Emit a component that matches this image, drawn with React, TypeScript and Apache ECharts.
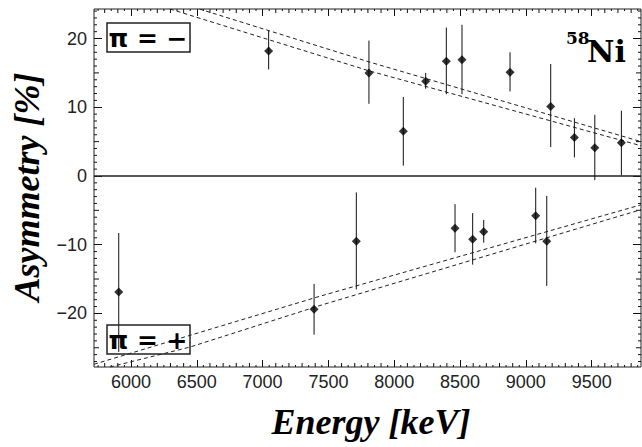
import React, { useEffect, useRef } from "react";
import * as echarts from "echarts";

// Axis extents
const XMIN = 5719;
const XMAX = 9875;
const YMIN = -27.8;
const YMAX = 24.3;

// Tick labels
const xTicks = [6000, 6500, 7000, 7500, 8000, 8500, 9000, 9500];
const yTicks = [-20, -10, 0, 10, 20];

// pi = - (upper panel)
const minusE = [7046, 7808, 8069, 8239, 8396, 8515, 8880, 9189, 9369, 9524, 9726];
const minusA = [18.2, 15.0, 6.5, 13.8, 16.7, 16.9, 15.1, 10.1, 5.6, 4.1, 4.85];
const minusHi = [21.1, 19.7, 11.5, 15.0, 21.6, 22.0, 18.0, 16.3, 8.4, 8.9, 9.5];
const minusLo = [15.5, 10.5, 1.5, 12.7, 11.9, 11.9, 12.3, 4.2, 2.7, -0.6, 0.1];

// pi = + (lower panel)
const plusE = [5907, 7391, 7712, 8462, 8596, 8680, 9075, 9159];
const plusA = [-16.9, -19.4, -9.5, -7.6, -9.2, -8.1, -5.8, -9.5];
const plusHi = [-8.3, -15.7, -2.4, -4.1, -5.4, -6.4, -1.7, -2.9];
const plusLo = [-25.6, -23.1, -16.5, -11.1, -12.9, -9.7, -9.8, -16.0];

// Model curves (dashed)
const minusCurveA = [[6296, 24.3], [7809, 15.3], [9875, 4.4]];
const minusCurveB = [[6520, 24.3], [7809, 16.6], [9875, 5.0]];
const plusCurveA = [[5719, -27.4], [7436, -17.5], [9875, -4.2]];
const plusCurveB = [[5840, -27.8], [6448, -24.9], [7436, -18.85], [9875, -4.9]];

const zeroLine = [[XMIN, 0], [XMAX, 0]];

// Minor tick positions (axis decoration)
const xMinor: number[][] = [];
for (let v = 5750; v <= 9850; v += 50) if (v % 500 !== 0) xMinor.push([v, v % 100 === 0 ? 4 : 2]);
const yMinor: number[][] = [];
for (let v = -27; v <= 24; v += 1) if (v % 10 !== 0) yMinor.push([v, v % 5 === 0 ? 5 : 3]);

const fmtY = (v: number) => (v < 0 ? "\u2212" + Math.abs(v) : String(v));

export default function App() {
  const ref = useRef<HTMLDivElement>(null);
  useEffect(() => {
    if (!ref.current) return;
    const chart = echarts.init(ref.current, null, { renderer: "svg" });

    const errBar = (E: number[], A: number[], lo: number[], hi: number[]) => ({
      type: "custom",
      data: E.map((e, i) => [e, A[i], lo[i], hi[i]]),
      encode: { x: 0, y: 1 },
      z: 3,
      renderItem: (_p: any, api: any) => {
        const x = api.value(0);
        const a = api.coord([x, api.value(2)]);
        const b = api.coord([x, api.value(3)]);
        return {
          type: "line",
          shape: { x1: a[0], y1: a[1], x2: b[0], y2: b[1] },
          style: { stroke: "#111", lineWidth: 1 },
        };
      },
    });

    const points = (E: number[], A: number[]) => ({
      type: "scatter",
      data: E.map((e, i) => [e, A[i]]),
      symbol: "diamond",
      symbolSize: 9,
      itemStyle: { color: "#000" },
      z: 5,
    });

    const dashed = (d: number[][]) => ({
      type: "line",
      data: d,
      symbol: "none",
      lineStyle: { color: "#222", width: 1, type: [4, 3] },
      z: 2,
    });

    const xAx = (pos: string, labels: boolean) => ({
      type: "value",
      min: XMIN,
      max: XMAX,
      position: pos,
      axisLine: { show: false, onZero: false },
      axisTick: { show: true, inside: true, length: 7, customValues: xTicks, lineStyle: { color: "#111" } },
      splitLine: { show: false },
      axisLabel: labels
        ? { customValues: xTicks, margin: 6, color: "#222", fontFamily: "Liberation Sans", fontSize: 18, formatter: (v: number) => String(v) }
        : { show: false },
    });
    const yAx = (pos: string, labels: boolean) => ({
      type: "value",
      min: YMIN,
      max: YMAX,
      position: pos,
      axisLine: { show: false, onZero: false },
      axisTick: { show: true, inside: true, length: 8, customValues: yTicks, lineStyle: { color: "#111" } },
      splitLine: { show: false },
      axisLabel: labels
        ? { customValues: yTicks, margin: 7, color: "#222", fontFamily: "Liberation Sans", fontSize: 18, formatter: fmtY }
        : { show: false },
    });

    const option: any = {
      animation: false,
      backgroundColor: "#fff",
      grid: { left: 94, right: 1, top: 9, bottom: 80, show: true, borderColor: "#222", borderWidth: 1, backgroundColor: "transparent" },
      xAxis: [xAx("bottom", true), xAx("top", false)],
      yAxis: [yAx("left", true), yAx("right", false)],
      series: [
        {
          type: "custom",
          data: xMinor,
          encode: { x: 0, y: 1 },
          silent: true,
          z: 1,
          renderItem: (_p: any, api: any) => {
            const v = api.value(0);
            const len = api.value(1);
            const b = api.coord([v, YMIN]);
            const t = api.coord([v, YMAX]);
            return {
              type: "group",
              children: [
                { type: "line", shape: { x1: b[0], y1: b[1], x2: b[0], y2: b[1] - len }, style: { stroke: "#111", lineWidth: 1 } },
                { type: "line", shape: { x1: t[0], y1: t[1], x2: t[0], y2: t[1] + len }, style: { stroke: "#111", lineWidth: 1 } },
              ],
            };
          },
        },
        {
          type: "custom",
          data: yMinor.map((d) => [XMIN, d[0], d[1]]),
          encode: { x: 0, y: 1 },
          silent: true,
          z: 1,
          renderItem: (_p: any, api: any) => {
            const v = api.value(1);
            const len = api.value(2);
            const l = api.coord([XMIN, v]);
            const r = api.coord([XMAX, v]);
            return {
              type: "group",
              children: [
                { type: "line", shape: { x1: l[0], y1: l[1], x2: l[0] + len, y2: l[1] }, style: { stroke: "#111", lineWidth: 1 } },
                { type: "line", shape: { x1: r[0], y1: r[1], x2: r[0] - len, y2: r[1] }, style: { stroke: "#111", lineWidth: 1 } },
              ],
            };
          },
        },
        {
          type: "line",
          data: zeroLine,
          symbol: "none",
          lineStyle: { color: "#222", width: 1.5 },
          z: 2,
        },
        dashed(minusCurveA),
        dashed(minusCurveB),
        dashed(plusCurveA),
        dashed(plusCurveB),
        errBar(minusE, minusA, minusLo, minusHi),
        errBar(plusE, plusA, plusLo, plusHi),
        points(minusE, minusA),
        points(plusE, plusA),
      ],
      graphic: [
        {
          type: "rect",
          shape: { x: 107, y: 23, width: 83, height: 29 },
          style: { fill: "none", stroke: "#222", lineWidth: 1.5 },
          z: 10,
        },
        {
          type: "text",
          x: 148,
          y: 38,
          style: { text: "\u03c0 = \u2212", font: "bold 25px 'DejaVu Sans'", fill: "#000", align: "center", verticalAlign: "middle" },
          z: 10,
        },
        {
          type: "rect",
          shape: { x: 107, y: 325, width: 83, height: 29 },
          style: { fill: "none", stroke: "#222", lineWidth: 1.5 },
          z: 10,
        },
        {
          type: "text",
          x: 148,
          y: 340,
          style: { text: "\u03c0 = +", font: "bold 25px 'DejaVu Sans'", fill: "#000", align: "center", verticalAlign: "middle" },
          z: 10,
        },
        {
          type: "text",
          x: 566,
          y: 38,
          style: { text: "58", font: "bold 17px 'DejaVu Serif'", fill: "#000", align: "left", verticalAlign: "middle" },
          z: 10,
        },
        {
          type: "text",
          x: 587,
          y: 51,
          style: { text: "Ni", font: "bold 30px 'DejaVu Serif'", fill: "#000", align: "left", verticalAlign: "middle" },
          z: 10,
        },
        {
          type: "text",
          x: 371,
          y: 422,
          style: { text: "Energy [keV]", font: "italic bold 36px 'Liberation Serif'", fill: "#000", align: "center", verticalAlign: "middle" },
          z: 10,
        },
        {
          type: "text",
          x: 27,
          y: 187,
          rotation: Math.PI / 2,
          style: { text: "Asymmetry [%]", font: "italic bold 36px 'Liberation Serif'", fill: "#000", align: "center", verticalAlign: "middle" },
          z: 10,
        },
      ],
    };
    chart.setOption(option);
    return () => chart.dispose();
  }, []);
  return <div ref={ref} style={{ position: "fixed", left: 0, top: 0, width: 642, height: 447 }} />;
}
